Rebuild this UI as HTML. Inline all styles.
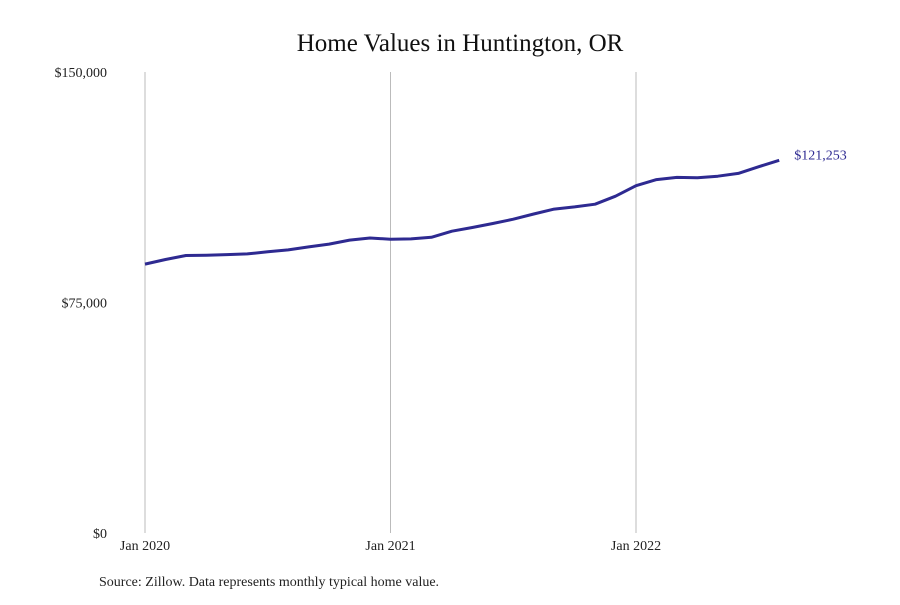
<!DOCTYPE html>
<html><head><meta charset="utf-8"><style>
body{margin:0;background:#fff;}
svg{font-family:"Liberation Serif",serif;}
</style></head><body>
<svg width="900" height="600">
<text x="460" y="51" text-anchor="middle" font-size="25" fill="#111">Home Values in Huntington, OR</text>
<g id="grid"></g>
<g id="yticks"></g>
<g id="xticks"></g>
<path id="line" fill="none" stroke="#2e2a91" stroke-width="3" stroke-linejoin="round"/>
<text id="endlabel" font-size="14" fill="#2e2a91"></text>
<text x="99" y="586" font-size="14" fill="#222">Source: Zillow. Data represents monthly typical home value.</text>
</svg>
<script>
const values = [87.5,89.0,90.3,90.4,90.6,90.8,91.5,92.1,93.1,94.0,95.3,96.0,95.6,95.7,96.2,98.2,99.4,100.7,102.1,103.8,105.4,106.1,107.0,109.6,113.0,115.0,115.7,115.6,116.1,117.0,119.2,121.253];
const yTicks = [0,75000,150000];
const yTickLabels = ["$0","$75,000","$150,000"];
const xTickMonths = [0,12,24];
const xTickLabels = ["Jan 2020","Jan 2021","Jan 2022"];
const lastLabel = "$121,253";
const NS="http://www.w3.org/2000/svg";
const x = m => 145 + m*(491/24);
const y = v => 533 - v/150000*461;
const grid=document.getElementById('grid'), yt=document.getElementById('yticks'), xt=document.getElementById('xticks');
xTickMonths.forEach((m,i)=>{
  const l=document.createElementNS(NS,'line');
  l.setAttribute('x1',x(m));l.setAttribute('x2',x(m));l.setAttribute('y1',72);l.setAttribute('y2',533);
  l.setAttribute('stroke','#bbb');l.setAttribute('stroke-width','1');
  
  
  grid.appendChild(l);
  const t=document.createElementNS(NS,'text');
  t.setAttribute('x',x(m));t.setAttribute('y',550);t.setAttribute('text-anchor','middle');t.setAttribute('font-size','14');t.setAttribute('fill','#222');
  t.textContent=xTickLabels[i];
  
  
  xt.appendChild(t);
});
yTicks.forEach((v,i)=>{
  const t=document.createElementNS(NS,'text');
  t.setAttribute('x',107);t.setAttribute('y',y(v)+5);t.setAttribute('text-anchor','end');t.setAttribute('font-size','14');t.setAttribute('fill','#222');
  t.textContent=yTickLabels[i];
  
  
  yt.appendChild(t);
});
document.getElementById('line').setAttribute('d',values.map((v,i)=>(i?'L':'M')+x(i).toFixed(1)+','+y(v*1000).toFixed(1)).join(''));
const n=values.length-1, el=document.getElementById('endlabel');
el.setAttribute('x',x(n)+15);el.setAttribute('y',y(values[n]*1000)-1);el.textContent=lastLabel;
</script>
</body></html>
